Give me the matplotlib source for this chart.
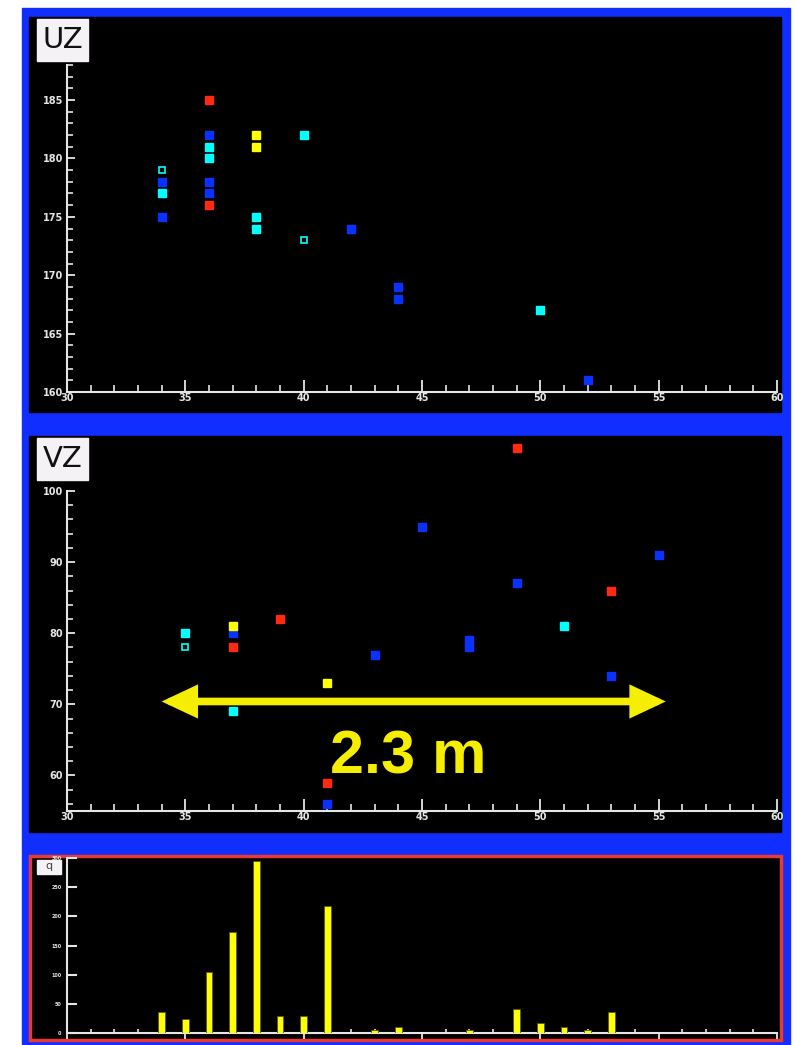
import matplotlib.pyplot as plt
from matplotlib.patches import Rectangle
from matplotlib.ticker import MultipleLocator

W, H = 796, 1045

# UZ view (x, z)
uz_blue_x = [34, 34, 36, 36, 36, 42, 44, 44, 52]
uz_blue_y = [178, 175, 182, 178, 177, 174, 169, 168, 161]
uz_cyan_x = [34, 36, 36, 38, 38, 40, 50]
uz_cyan_y = [177, 181, 180, 175, 174, 182, 167]
uz_yellow_x = [38, 38]
uz_yellow_y = [182, 181]
uz_red_x = [36, 36]
uz_red_y = [185, 176]
uz_hollow_x = [34, 40]
uz_hollow_y = [179, 173]

# VZ view
vz_blue_x = [37, 41, 43, 45, 47, 47, 49, 53, 55]
vz_blue_y = [80, 56, 77, 95, 79, 78, 87, 74, 91]
vz_cyan_x = [35, 37, 51]
vz_cyan_y = [80, 69, 81]
vz_yellow_x = [37, 41]
vz_yellow_y = [81, 73]
vz_red_x = [37, 39, 41, 49, 53]
vz_red_y = [78, 82, 59, 106, 86]
vz_hollow_x = [35]
vz_hollow_y = [78]

# charge per strip
q_x = [34, 35, 36, 37, 38, 39, 40, 41, 43, 44, 47, 49, 50, 51, 52, 53]
q_y = [36, 24, 104, 173, 295, 29, 29, 217, 6, 10, 5, 41, 18, 10, 6, 36]

BLUE_BG = '#0f2eff'
RED = '#ff2a10'
BLUE = '#0a32ff'
CYAN = '#00ffff'
YELLOW = '#ffff00'
ARROW = '#f5ee00'
AXC = '#e6e6e6'
NARROW = ['Liberation Sans Narrow', 'DejaVu Sans']


def fbox(x0, y0, x1, y1):
    return [x0 / W, 1 - y1 / H, (x1 - x0) / W, (y1 - y0) / H]


def rect(x0, y0, x1, y1, **kw):
    b = fbox(x0, y0, x1, y1)
    fig.add_artist(Rectangle((b[0], b[1]), b[2], b[3], transform=fig.transFigure, **kw))


def style(ax, ylim, ymaj, ymin, fs=7, xlabels=True):
    ax.set_facecolor('none')
    ax.set_xlim(30, 60)
    ax.set_ylim(*ylim)
    for s in ['top', 'right']:
        ax.spines[s].set_visible(False)
    for s in ['left', 'bottom']:
        ax.spines[s].set_color(AXC)
        ax.spines[s].set_linewidth(1.5)
    ax.xaxis.set_major_locator(MultipleLocator(5))
    ax.xaxis.set_minor_locator(MultipleLocator(1))
    ax.yaxis.set_major_locator(MultipleLocator(ymaj))
    if ymin:
        ax.yaxis.set_minor_locator(MultipleLocator(ymin))
    ax.tick_params(axis='x', which='major', direction='in', length=9, width=1.3,
                   color=AXC, labelcolor=AXC, labelsize=fs, pad=1, labelbottom=xlabels)
    ax.tick_params(axis='x', which='minor', direction='in', length=5, width=1.2, color=AXC)
    ax.tick_params(axis='y', which='major', direction='in', length=6, width=1.3,
                   color=AXC, labelcolor=AXC, labelsize=fs, pad=3)
    ax.tick_params(axis='y', which='minor', direction='in', length=4, width=1.2, color=AXC)
    for lab in ax.get_xticklabels() + ax.get_yticklabels():
        lab.set_family(NARROW)
        lab.set_fontweight('bold')


def points(ax, groups):
    for xs, ys, c in groups:
        ax.plot(xs, ys, 's', color=c, ms=6, mec=c, clip_on=False, zorder=3)


fig = plt.figure(figsize=(W / 100, H / 100), dpi=100, facecolor='white')

# frames
rect(22, 8, 790, 1045, color=BLUE_BG, zorder=-5)
rect(29, 17, 781, 412, color='black', zorder=-4)
rect(29, 436, 781, 832, color='black', zorder=-4)
rect(30, 856, 781, 1040, facecolor='black', edgecolor='#e83a30', lw=2.5, zorder=-4)

# UZ
ax1 = fig.add_axes(fbox(67, 65, 777, 392))
points(ax1, [(uz_blue_x, uz_blue_y, BLUE), (uz_cyan_x, uz_cyan_y, CYAN),
             (uz_yellow_x, uz_yellow_y, YELLOW), (uz_red_x, uz_red_y, RED)])
ax1.plot(uz_hollow_x, uz_hollow_y, 's', ms=4, mfc='black', mec=CYAN, mew=1.2, zorder=3)
style(ax1, (160, 188), 5, 1)

# VZ
ax2 = fig.add_axes(fbox(67, 491, 777, 811))
points(ax2, [(vz_blue_x, vz_blue_y, BLUE), (vz_cyan_x, vz_cyan_y, CYAN),
             (vz_yellow_x, vz_yellow_y, YELLOW), (vz_red_x, vz_red_y, RED)])
ax2.plot(vz_hollow_x, vz_hollow_y, 's', ms=4, mfc='black', mec=CYAN, mew=1.2, zorder=3)
style(ax2, (55, 100), 10, 2)
ax2.annotate('', xy=(55.3, 70.4), xytext=(34.0, 70.4), annotation_clip=False,
             arrowprops=dict(arrowstyle='<|-|>,head_length=0.85,head_width=0.4',
                             mutation_scale=20, lw=5.5, color=ARROW,
                             shrinkA=0, shrinkB=0, joinstyle='miter'))

# charge
ax3 = fig.add_axes(fbox(67, 858, 777, 1033))
ax3.bar(q_x, q_y, width=0.27, color=YELLOW, edgecolor='#5a5a00', lw=0.6, zorder=3)
style(ax3, (0, 300), 50, 0, fs=3.5, xlabels=False)
ax3.tick_params(axis='x', which='major', direction='out', length=4)
ax3.tick_params(axis='x', which='minor', direction='in', length=3)
ax3.tick_params(axis='y', which='major', length=7, width=1.5, pad=4)

# view labels
rect(37, 19, 88, 61, color='#f4f2f4', zorder=5)
fig.text(62.5 / W, 1 - 40 / H, 'UZ', family=NARROW, fontsize=21,
         ha='center', va='center', color='#111111', zorder=6)
rect(37, 438, 88, 480, color='#f4f2f4', zorder=5)
fig.text(62.5 / W, 1 - 459 / H, 'VZ', family=NARROW, fontsize=21,
         ha='center', va='center', color='#111111', zorder=6)
rect(37, 860, 61, 874, color='#f4f2f4', zorder=5)
fig.text(49 / W, 1 - 866 / H, 'q', family=NARROW, fontsize=8,
         ha='center', va='center', color='#444444', zorder=6)

fig.text(408 / W, 1 - 773 / H, '2.3 m', family=['Liberation Sans', 'DejaVu Sans'],
         fontweight='bold', fontsize=44, color=ARROW, ha='center', va='baseline', zorder=6)

fig.savefig('out.png', dpi=100, facecolor='white')
